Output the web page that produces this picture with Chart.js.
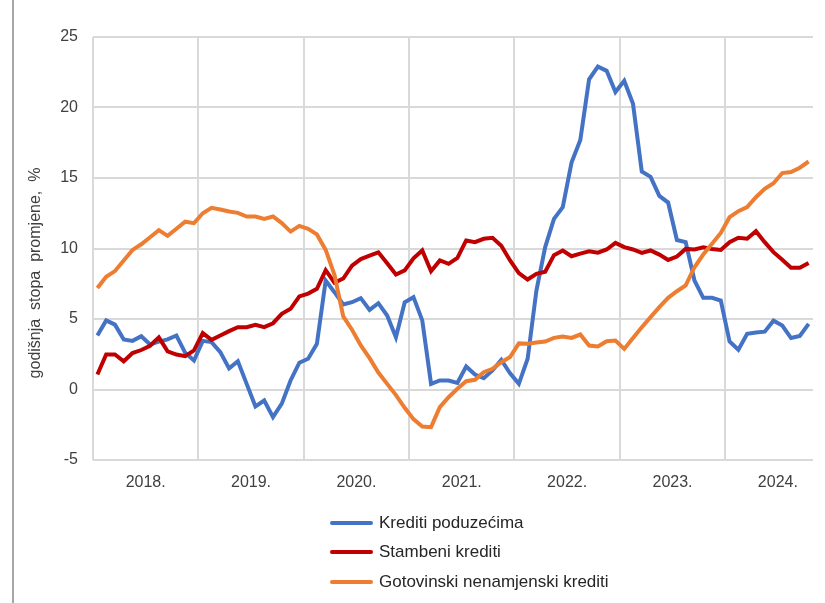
<!DOCTYPE html>
<html>
<head>
<meta charset="utf-8">
<script src="https://cdn.jsdelivr.net/npm/chart.js@4.4.1/dist/chart.umd.min.js"></script>
<style>
  html, body { margin: 0; padding: 0; background: #fff; }
  #wrap { position: relative; width: 825px; height: 603px; overflow: hidden; }
  #rub { position: absolute; left: 12px; top: 0; width: 2px; height: 603px; background: #a6a6a6; }
  #legenda { position: absolute; left: 330px; top: 508px; font-family: "Liberation Sans", Arial, sans-serif; font-size: 17px; color: #262626; }
  #legenda div { height: 29.5px; display: flex; align-items: center; }
  #legenda span.crta { display: inline-block; width: 43px; height: 4px; border-radius: 2px; margin-right: 6px; }
</style>
</head>
<body>
<div id="wrap">
  <canvas id="grafikon" width="825" height="603"></canvas>
  <div id="rub"></div>
  <div id="legenda"></div>
</div>
<script>
// godine na x osi (mjesečni podaci od 1/2018 do 10/2024)
const godine = ['2018.', '2019.', '2020.', '2021.', '2022.', '2023.', '2024.'];
const brojMjeseci = 82;

// godišnja stopa promjene, %
const kreditiPoduzecima = [
  3.83, 4.9, 4.6, 3.55, 3.45, 3.78, 3.2, 3.4, 3.55, 3.83, 2.6, 2.06,
  3.45, 3.36, 2.65, 1.5, 2.0, 0.4, -1.2, -0.78, -1.96, -1.0, 0.64, 1.9,
  2.18, 3.24, 7.73, 6.9, 6.03, 6.19, 6.48, 5.65, 6.12, 5.25, 3.71, 6.19,
  6.55, 4.9, 0.4, 0.64, 0.64, 0.47, 1.63, 1.06, 0.8, 1.35, 2.1, 1.15,
  0.4, 2.18, 7.02, 10.1, 12.1, 12.93, 16.1, 17.7, 22.0, 22.9, 22.6, 21.1,
  21.9, 20.26, 15.46, 15.08, 13.73, 13.26, 10.6, 10.45, 7.73, 6.5, 6.5, 6.31,
  3.4, 2.82, 3.95, 4.04, 4.1, 4.88, 4.53, 3.65, 3.8, 4.65
];
const stambeniKrediti = [
  1.06, 2.48, 2.48, 2.0, 2.58, 2.8, 3.1, 3.7, 2.7, 2.48, 2.36, 2.77,
  4.0, 3.52, 3.83, 4.14, 4.42, 4.42, 4.59, 4.42, 4.7, 5.37, 5.72, 6.6,
  6.8, 7.14, 8.46, 7.58, 7.87, 8.78, 9.25, 9.5, 9.73, 8.95, 8.16, 8.45,
  9.3, 9.86, 8.39, 9.15, 8.91, 9.34, 10.57, 10.45, 10.69, 10.76, 10.2, 9.15,
  8.25, 7.8, 8.2, 8.35, 9.53, 9.86, 9.45, 9.64, 9.8, 9.7, 9.93, 10.4,
  10.1, 9.93, 9.69, 9.86, 9.57, 9.19, 9.43, 9.97, 9.93, 10.09, 9.97, 9.9,
  10.45, 10.76, 10.69, 11.23, 10.45, 9.74, 9.2, 8.63, 8.63, 8.98
];
const gotovinskiKrediti = [
  7.2, 8.0, 8.4, 9.15, 9.9, 10.3, 10.8, 11.3, 10.9, 11.4, 11.9, 11.8,
  12.5, 12.88, 12.77, 12.62, 12.53, 12.27, 12.27, 12.1, 12.27, 11.8, 11.2, 11.6,
  11.4, 11.0, 9.9, 8.13, 5.18, 4.24, 3.12, 2.22, 1.2, 0.4, -0.4, -1.3,
  -2.1, -2.62, -2.67, -1.25, -0.55, 0.05, 0.59, 0.69, 1.23, 1.47, 1.94, 2.3,
  3.27, 3.24, 3.33, 3.4, 3.66, 3.76, 3.66, 3.9, 3.12, 3.05, 3.42, 3.47,
  2.88, 3.66, 4.42, 5.13, 5.84, 6.5, 6.97, 7.38, 8.67, 9.57, 10.33, 11.1,
  12.22, 12.65, 12.93, 13.64, 14.23, 14.63, 15.35, 15.42, 15.73, 16.17
];

// oznake kategorija (mjesec/godina)
const mjeseci = [];
for (let i = 0; i < brojMjeseci; i++) {
  mjeseci.push((i % 12 + 1) + '/' + godine[Math.floor(i / 12)]);
}

const siva = '#d9d9d9';
const tekst = '#404040';
const font = 'Liberation Sans, Arial, sans-serif';

const skupovi = [
  { label: 'Krediti poduzećima', data: kreditiPoduzecima, borderColor: '#4472c4', order: 3 },
  { label: 'Stambeni krediti', data: stambeniKrediti, borderColor: '#c00000', order: 2 },
  { label: 'Gotovinski nenamjenski krediti', data: gotovinskiKrediti, borderColor: '#ed7d31', order: 1 }
];

// naslov y osi
const naslovOsi = {
  id: 'naslovOsi',
  afterDraw(chart) {
    const ctx = chart.ctx;
    ctx.save();
    ctx.translate(36, 273);
    ctx.rotate(-Math.PI / 2);
    ctx.fillStyle = tekst;
    ctx.font = '16px ' + font;
    ctx.textAlign = 'center';
    ctx.textBaseline = 'middle';
    ctx.fillText('godišnja  stopa  promjene,  %', 0, 0);
    ctx.restore();
  }
};

const grafikon = new Chart(document.getElementById('grafikon'), {
  type: 'line',
  data: {
    labels: mjeseci,
    datasets: skupovi.map(s => ({
      ...s,
      borderWidth: 4,
      pointRadius: 0,
      tension: 0,
      fill: false
    }))
  },
  options: {
    responsive: false,
    animation: false,
    layout: { padding: { left: 0, top: 37, right: 12, bottom: 103 } },
    plugins: { legend: { display: false }, tooltip: { enabled: false } },
    scales: {
      x: {
        offset: true,
        border: { display: false },
        grid: {
          offset: true,
          drawTicks: false,
          lineWidth: 2,
          color: ctx => (ctx.index % 12 === 0 ? siva : 'rgba(0,0,0,0)')
        },
        ticks: {
          autoSkip: false,
          maxRotation: 0,
          padding: 13,
          labelOffset: -4.4,
          color: tekst,
          font: { family: font, size: 16 },
          callback: (v, i) => (i % 12 === 6 ? godine[Math.floor(i / 12)] : '')
        },
        afterFit: s => { s.height = 40; }
      },
      y: {
        min: -5,
        max: 25,
        border: { display: false },
        grid: { color: siva, lineWidth: 2, drawTicks: false },
        ticks: {
          stepSize: 5,
          padding: 15,
          color: tekst,
          font: { family: font, size: 16 }
        },
        afterFit: s => { s.width = 93; }
      }
    }
  },
  plugins: [naslovOsi]
});

// legenda ispod grafikona, jedna stavka po retku
const legenda = document.getElementById('legenda');
skupovi.forEach(s => {
  const red = document.createElement('div');
  const crta = document.createElement('span');
  crta.className = 'crta';
  crta.style.background = s.borderColor;
  red.appendChild(crta);
  red.appendChild(document.createTextNode(s.label));
  legenda.appendChild(red);
});
</script>
</body>
</html>
